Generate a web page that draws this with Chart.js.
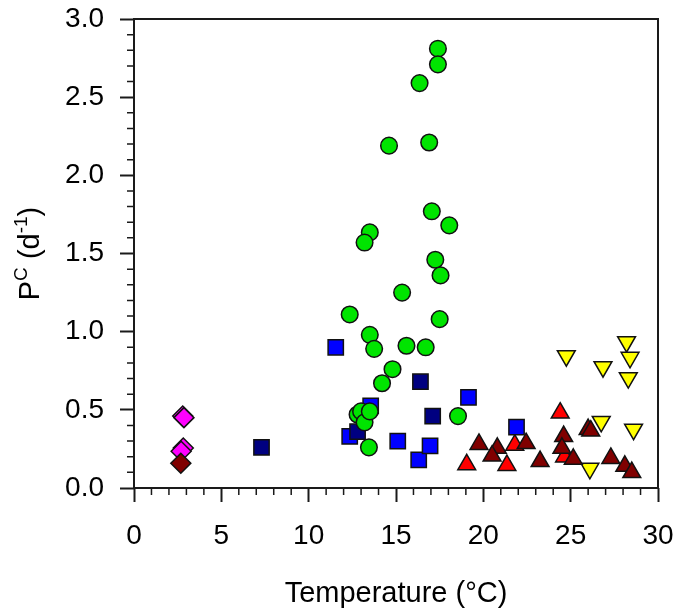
<!DOCTYPE html>
<html>
<head>
<meta charset="utf-8">
<script src="https://cdn.jsdelivr.net/npm/chart.js@4"></script>
<style>
html, body { margin: 0; padding: 0; background: #fff; }
#wrap { width: 681px; height: 611px; }
</style>
</head>
<body>
<div id="wrap"><canvas id="pcChart"></canvas></div>
<script>
// axis ticks
const xTicks = [0, 5, 10, 15, 20, 25, 30];
const yTicks = [0, 0.5, 1.0, 1.5, 2.0, 2.5, 3.0];

// green circles
const greenTemp = [17.4, 17.4, 16.35, 16.9, 14.6, 17.05, 18.05, 13.5, 13.2, 17.25, 17.55, 15.35, 12.35, 17.5, 13.5, 15.6, 16.7, 13.75, 14.8, 14.2, 18.55, 12.8, 13.0, 13.2, 13.5, 13.45];
const greenPc = [2.81, 2.71, 2.59, 2.21, 2.19, 1.77, 1.68, 1.635, 1.57, 1.46, 1.36, 1.25, 1.11, 1.08, 0.98, 0.91, 0.90, 0.89, 0.76, 0.67, 0.46, 0.47, 0.49, 0.42, 0.49, 0.26];

// navy squares
const navyTemp = [7.3, 12.8, 16.4, 17.1];
const navyPc = [0.26, 0.36, 0.68, 0.46];

// blue squares
const blueTemp = [11.55, 12.35, 13.55, 15.1, 16.3, 16.95, 19.15, 21.9];
const bluePc = [0.90, 0.33, 0.525, 0.30, 0.18, 0.27, 0.58, 0.39];

// dark red triangles
const darkRedTemp = [19.75, 20.8, 20.5, 22.45, 23.25, 24.6, 24.5, 25.15, 26.0, 26.15, 27.3, 28.1, 28.5];
const darkRedPc = [0.28, 0.255, 0.205, 0.285, 0.17, 0.33, 0.255, 0.185, 0.375, 0.365, 0.19, 0.14, 0.10];

// red triangles
const redTemp = [24.4, 19.05, 21.35, 21.8, 24.65];
const redPc = [0.48, 0.15, 0.145, 0.275, 0.2];

// yellow down triangles
const yellowTemp = [24.75, 28.2, 28.4, 26.85, 28.3, 26.75, 28.6, 26.1];
const yellowPc = [0.845, 0.935, 0.835, 0.775, 0.705, 0.425, 0.375, 0.125];

// diamonds
const darkDiaTemp = [2.68];
const darkDiaPc = [0.158];
const magentaTemp = [2.79, 2.86, 2.82, 2.7];
const magentaPc = [0.46, 0.45, 0.256, 0.235];

function pts(xs, ys) {
  return xs.map((x, i) => ({ x: x, y: ys[i] }));
}

function series(label, xs, ys, color, style, radius, rotation) {
  return {
    label: label,
    data: pts(xs, ys),
    pointStyle: style,
    pointRadius: radius,
    pointRotation: rotation || 0,
    backgroundColor: color,
    borderColor: '#111',
    borderWidth: 1.5,
    showLine: false
  };
}

// frame + minor ticks
const framePlugin = {
  id: 'frame',
  beforeDatasetsDraw(chart) {
    const { ctx, chartArea: a, scales } = chart;
    ctx.save();
    ctx.strokeStyle = '#1a1a1a';
    ctx.lineWidth = 2;
    ctx.strokeRect(a.left, a.top, a.right - a.left, a.bottom - a.top);
    ctx.lineWidth = 1.5;
    ctx.beginPath();
    for (let v = 0; v <= 30; v++) {
      if (v % 5 === 0) continue;
      const px = scales.x.getPixelForValue(v);
      ctx.moveTo(px, a.bottom);
      ctx.lineTo(px, a.bottom + 7);
    }
    for (let i = 0; i <= 30; i++) {
      if (i % 5 === 0) continue;
      const py = scales.y.getPixelForValue(i / 10);
      ctx.moveTo(a.left, py);
      ctx.lineTo(a.left - 7, py);
    }
    ctx.stroke();
    ctx.restore();
  }
};

// y title with superscripts
const yTitlePlugin = {
  id: 'yTitle',
  afterDraw(chart) {
    const { ctx, chartArea: a } = chart;
    const parts = [['P', 29, 0], ['C', 19, -12], [' (d', 29, 0], ['-1', 19, -12], [')', 29, 0]];
    ctx.save();
    ctx.translate(28, (a.top + a.bottom) / 2);
    ctx.rotate(-Math.PI / 2);
    ctx.fillStyle = '#000';
    ctx.textBaseline = 'alphabetic';
    let total = 0;
    parts.forEach(p => {
      ctx.font = p[1] + 'px "Liberation Sans", Arial, sans-serif';
      total += ctx.measureText(p[0]).width;
    });
    let x = -total / 2;
    parts.forEach(p => {
      ctx.font = p[1] + 'px "Liberation Sans", Arial, sans-serif';
      ctx.fillText(p[0], x, 11 + p[2]);
      x += ctx.measureText(p[0]).width;
    });
    ctx.restore();
  }
};

const tickFont = { family: '"Liberation Sans", Arial, sans-serif', size: 28 };

new Chart(document.getElementById('pcChart'), {
  type: 'scatter',
  data: {
    datasets: [
      series('green', greenTemp, greenPc, '#00e400', 'circle', 8.3),
      series('navy', navyTemp, navyPc, '#000080', 'rect', 10.8),
      series('blue', blueTemp, bluePc, '#0000ff', 'rect', 10.8),
      series('darkred', darkRedTemp, darkRedPc, '#800000', 'triangle', 10.3),
      series('red', redTemp, redPc, '#ff0000', 'triangle', 10.3),
      series('yellow', yellowTemp, yellowPc, '#ffff00', 'triangle', 10.3, 180),
      series('darkdia', darkDiaTemp, darkDiaPc, '#800000', 'rectRot', 10),
      series('magenta', magentaTemp, magentaPc, '#ff00ff', 'rectRot', 10)
    ]
  },
  options: {
    responsive: true,
    maintainAspectRatio: false,
    animation: false,
    layout: { padding: { top: 19, right: 23, left: 0, bottom: 0 } },
    plugins: { legend: { display: false }, tooltip: { enabled: false } },
    scales: {
      x: {
        type: 'linear',
        min: 0,
        max: 30,
        afterFit: s => { s.height = 123; s.paddingLeft = 0; s.paddingRight = 0; },
        afterBuildTicks: s => { s.ticks = xTicks.map(v => ({ value: v })); },
        ticks: { font: tickFont, color: '#000', padding: 17, maxRotation: 0 },
        grid: { drawOnChartArea: false, drawTicks: true, tickLength: 14, tickColor: '#1a1a1a', tickWidth: 2 },
        border: { display: false },
        title: {
          display: true,
          text: 'Temperature (°C)',
          color: '#000',
          font: { family: '"Liberation Sans", Arial, sans-serif', size: 29 },
          padding: { top: 0, bottom: 0 }
        }
      },
      y: {
        type: 'linear',
        min: 0,
        max: 3,
        afterFit: s => { s.width = 134; s.paddingTop = 0; s.paddingBottom = 0; },
        afterBuildTicks: s => { s.ticks = yTicks.map(v => ({ value: v })); },
        ticks: { font: tickFont, color: '#000', padding: 16, callback: v => v.toFixed(1) },
        grid: { drawOnChartArea: false, drawTicks: true, tickLength: 14, tickColor: '#1a1a1a', tickWidth: 2 },
        border: { display: false }
      }
    }
  },
  plugins: [framePlugin, yTitlePlugin]
});
</script>
</body>
</html>
